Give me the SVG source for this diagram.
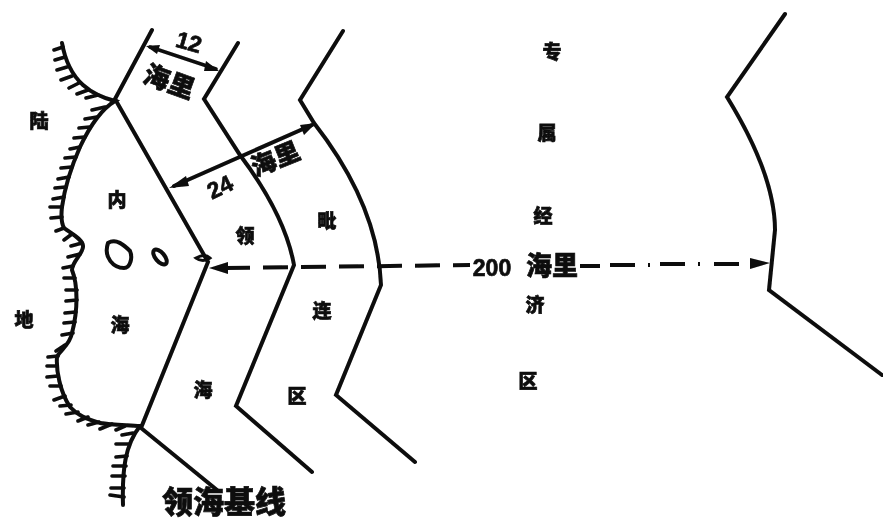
<svg xmlns="http://www.w3.org/2000/svg" width="883" height="522" viewBox="0 0 883 522">
<style>
.l{fill:none;stroke:#0a0a0a;stroke-width:4;stroke-linejoin:miter;stroke-linecap:round}
.h{fill:none;stroke:#0a0a0a;stroke-width:3.6;stroke-linecap:round}
.d{fill:none;stroke:#0a0a0a;stroke-width:4;stroke-dasharray:25 13}
.t{font-family:"Noto Sans CJK SC","Liberation Sans",sans-serif;font-weight:900;font-size:19px;fill:#0a0a0a;stroke:#0a0a0a;stroke-width:.7;text-anchor:middle}
.n{font-family:"Liberation Sans",sans-serif;font-weight:700;font-size:23px}
.a{fill:#0a0a0a}
</style>
<defs><filter id="b" x="-5%" y="-5%" width="110%" height="110%"><feGaussianBlur stdDeviation=".55"/></filter></defs>
<rect width="883" height="522" fill="#fff"/>
<g filter="url(#b)">
<g id="connectors">
<path class="l" d="M152 30L115 99L208 262L141 428L217 490"/>
<path class="l" d="M238 43L204 99L240 155Q285 215 294 265L236 406L312 472"/>
<path class="l" d="M343 31L300 100L314 123Q378 205 381 285L336 395L415 462"/>
<path class="l" d="M785 14L727 97Q775 175 775 230L769 290L882 375"/>
<path class="l" style="stroke-width:3.5" d="M150 47L216 69"/>
<path class="a" d="M146 46L160 45L157 54ZM219 71L206 61L204 71Z"/>
<path class="l" d="M174 186L312 125"/>
<path class="a" d="M169 188L186 176L189 186ZM316 123L300 125L304 135Z"/>
<path class="d" d="M225 268L470 265"/>
<path class="d" d="M580 266H600M610 265H650M660 264H700M714 264H752"/>
<path class="a" d="M209 268L228 262V274ZM770 263L750 258V269Z"/>
</g>
<g id="coast">
<path class="l" d="M62 43C65 60 72 75 83 85C92 93 103 98 115 101C100 110 88 130 80 147C72 165 65 185 62 207C61 215 61 222 64 228C72 234 84 240 83 247C82 255 72 262 72 270C78 285 78 310 72 333C70 345 60 350 57 357C56 370 60 392 70 407C80 418 92 420 100 423C112 425 128 425 140 426C125 445 122 470 123 505"/>
<path class="h" d="M63 47L54 50M65 57L55 60M67 67L57 70M72 76L61 80M79 83L69 88M88 90L77 94M98 95L86 98M105 107L92 110M97 117L85 119M90 127L79 128M85 137L74 138M80 147L70 149M76 157L65 158M72 167L61 168M69 177L58 179M66 187L55 188M64 197L53 199M62 207L50 207M62 217L51 218M64 228L56 231M72 234L64 240M82 243L71 246M80 254L68 257M73 266L63 268M75 278L64 278M77 290L66 290M77 300L66 301M76 312L65 313M75 322L64 323M73 333L62 335M65 345L56 351M58 356L48 357M57 366L47 366M58 376L47 377M61 386L50 386M65 396L54 400M71 405L60 406M78 412L66 414M88 417L78 421M99 422L88 425M112 424L100 429M125 426L116 430M133 433L122 435M129 444L116 444M127 456L116 457M126 466L113 466M125 476L112 476M124 488L111 488M124 497L110 495"/>
</g>
<g id="islands">
<path class="l" d="M108 243C116 238 124 245 130 251C133 258 130 268 124 268C114 268 103 258 108 243Z"/>
<ellipse cx="160" cy="257" rx="9" ry="4.5" transform="rotate(50 160 257)" class="l"/>
<path class="l" style="stroke-width:3" d="M196 258Q205 253 210 258Q203 263 196 258Z"/>
</g>
<g id="label-land-1"><text class="t" x="39" y="128">陆</text></g>
<g id="label-land-2"><text class="t" x="24" y="327">地</text></g>
<g id="label-inner-1"><text class="t" x="117" y="207">内</text></g>
<g id="label-inner-2"><text class="t" x="120" y="332">海</text></g>
<g id="label-terr-1"><text class="t" x="245" y="243">领</text></g>
<g id="label-terr-2"><text class="t" x="203" y="397">海</text></g>
<g id="label-cont-1"><text class="t" x="327" y="228">毗</text></g>
<g id="label-cont-2"><text class="t" x="322" y="318">连</text></g>
<g id="label-cont-3"><text class="t" x="297" y="403">区</text></g>
<g id="label-eez-1"><text class="t" x="552" y="59">专</text></g>
<g id="label-eez-2"><text class="t" x="547" y="140">属</text></g>
<g id="label-eez-3"><text class="t" x="543" y="223">经</text></g>
<g id="label-eez-4"><text class="t" x="535" y="312">济</text></g>
<g id="label-eez-5"><text class="t" x="528" y="388">区</text></g>
<g id="label-12"><text class="t n" x="189" y="50" transform="rotate(16 189 42)">12</text></g>
<g id="label-12nm"><text class="t" x="169" y="91" style="font-size:26px" transform="rotate(20 169 82)">海里</text></g>
<g id="label-24"><text class="t n" x="220" y="195" transform="rotate(-26 220 187)">24</text></g>
<g id="label-24nm"><text class="t" x="275" y="168" style="font-size:25px" transform="rotate(-22 275 158)">海里</text></g>
<g id="label-200"><text class="t n" x="492" y="276">200</text><text class="t" x="552" y="275" style="font-size:26px">海里</text></g>
<g id="label-baseline"><text class="t" x="224" y="513" style="font-size:31px">领海基线</text></g>
</g>
</svg>
